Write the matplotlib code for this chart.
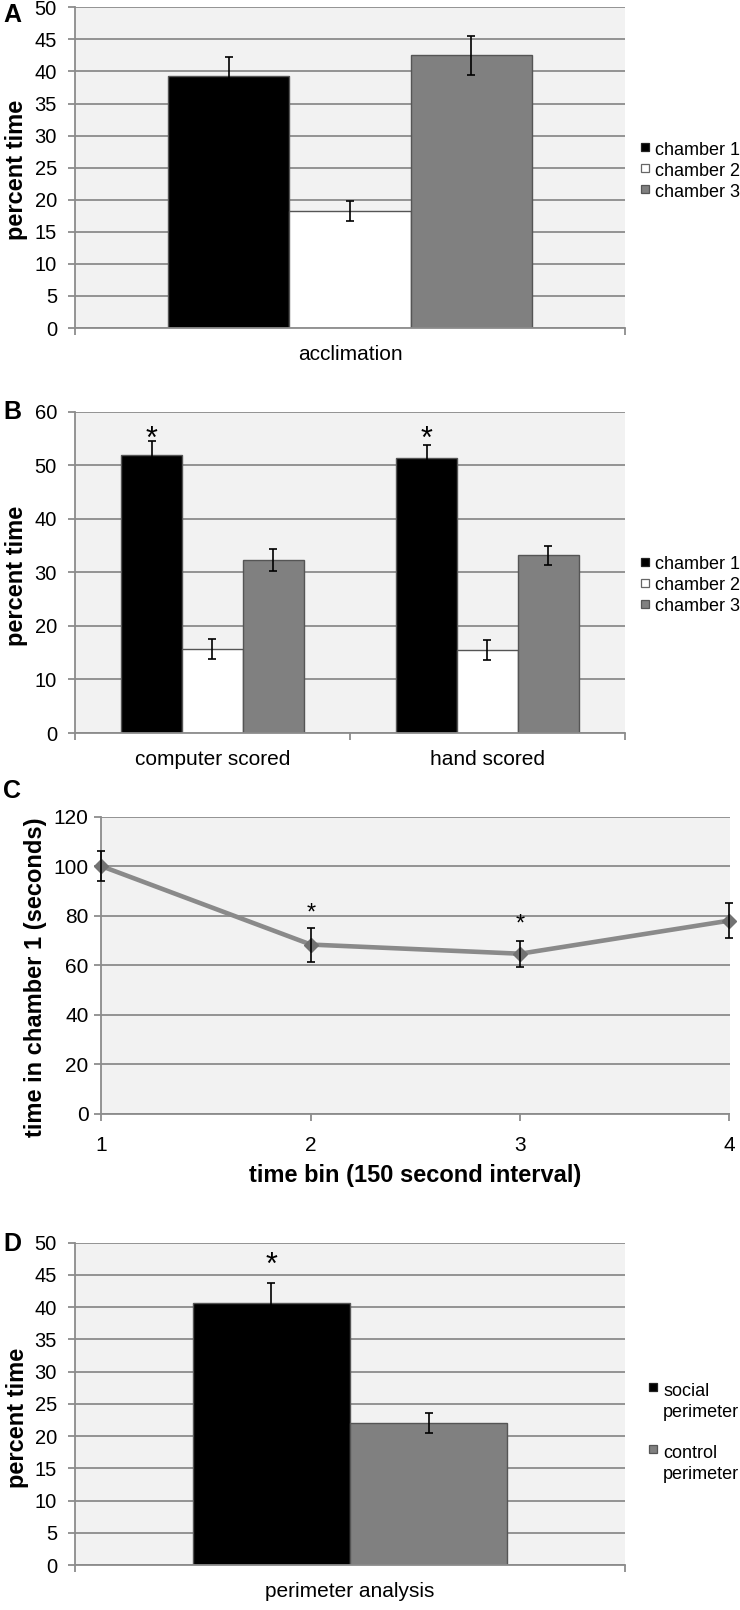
import matplotlib
matplotlib.use("Agg")
import matplotlib.pyplot as plt
import numpy as np
from matplotlib.patches import Rectangle

plt.rcParams['font.family'] = ['Liberation Sans', 'DejaVu Sans']

# ---------------- data ----------------
chambers = ['chamber 1', 'chamber 2', 'chamber 3']
chamber_colors = ['#000000', '#ffffff', '#808080']

# Panel A
a_categories = ['acclimation']
a_means = [39.3, 18.2, 42.5]
a_errs = [3.0, 1.55, 3.0]

# Panel B
b_categories = ['computer scored', 'hand scored']
b_means = {'chamber 1': [52.0, 51.4], 'chamber 2': [15.7, 15.45], 'chamber 3': [32.3, 33.2]}
b_errs = {'chamber 1': [2.6, 2.3], 'chamber 2': [1.9, 1.85], 'chamber 3': [2.1, 1.8]}
b_star_y = [56.6, 56.6]          # asterisks over chamber 1 bars

# Panel C
c_bins = [1, 2, 3, 4]
c_means = [100.0, 68.3, 64.6, 78.0]
c_errs = [6.0, 6.9, 5.2, 7.0]
c_star_bins = [2, 3]
c_star_y = [83.9, 79.6]

# Panel D
d_categories = ['perimeter analysis']
d_labels = ['social\nperimeter', 'control\nperimeter']
d_means = [40.6, 22.0]
d_errs = [3.1, 1.55]
d_colors = ['#000000', '#808080']
d_star_y = 47.9

# ---------------- layout helpers ----------------
W, H = 740, 1610
fig = plt.figure(figsize=(W / 100, H / 100), dpi=100)

def rect(left, top, right, bottom):
    return [left / W, 1 - bottom / H, (right - left) / W, (bottom - top) / H]

def fx(x):
    return x / W

def fy(y):
    return 1 - y / H

GRID = '#8c8c8c'
BG = '#f2f2f2'
EDGE = '#555555'
TICKFS = 14.5
LABFS = 17
LEGFS = 13

def style_axes(ax, ymax, ystep, ticklen=5, pad=8):
    ax.set_facecolor(BG)
    ax.set_ylim(0, ymax)
    ax.set_yticks(np.arange(0, ymax + 0.1, ystep))
    ax.yaxis.grid(True, color=GRID, linewidth=1.3)
    ax.set_axisbelow(True)
    for s in ['top', 'right']:
        ax.spines[s].set_visible(False)
    for s in ['left', 'bottom']:
        ax.spines[s].set_color(GRID)
        ax.spines[s].set_linewidth(1.3)
    ax.tick_params(axis='y', length=ticklen, width=1.3, color=GRID, pad=pad,
                   labelsize=TICKFS)

def category_xaxis(ax, ncat, labels):
    ax.set_xlim(0, ncat)
    ax.set_xticks(np.arange(ncat) + 0.5)
    ax.set_xticklabels(labels)
    ax.set_xticks(np.arange(ncat + 1), minor=True)
    ax.tick_params(axis='x', which='major', length=0, pad=12, labelsize=15)
    ax.tick_params(axis='x', which='minor', length=5, width=1.3, color=GRID)

def legend_entry(x_sq, y_sq, x_txt, y_base, color, label, edge, line_gap=20.5):
    fig.patches.append(Rectangle((fx(x_sq), fy(y_sq + 4)), 8 / W, 8 / H,
                                 transform=fig.transFigure, facecolor=color,
                                 edgecolor=edge, linewidth=0.9))
    for k, line in enumerate(label.split('\n')):
        fig.text(fx(x_txt), fy(y_base + k * line_gap), line, ha='left',
                 va='baseline', fontsize=LEGFS)

err_kw = dict(fmt='none', ecolor='black', elinewidth=1.2, capsize=3, capthick=1.2)
legend_edges = ['#222222', '#666666', '#555555']

# ---------------- Panel A ----------------
axA = fig.add_axes(rect(75, 7.3, 625, 328))
style_axes(axA, 50, 5)
category_xaxis(axA, 1, a_categories)
bw = 0.2204
offsetsA = (np.arange(3) - 1) * bw
for i, name in enumerate(chambers):
    x = 0.5 + offsetsA[i]
    axA.bar(x, a_means[i], width=bw, color=chamber_colors[i], edgecolor=EDGE,
            linewidth=1, label=name, zorder=2)
    axA.errorbar(x, a_means[i], yerr=a_errs[i], zorder=3, **err_kw)
    legend_entry(641, 147 + 21 * i, 655, 155 + 21 * i, chamber_colors[i], name,
                 legend_edges[i])

# ---------------- Panel B ----------------
axB = fig.add_axes(rect(75, 411.7, 625, 733))
style_axes(axB, 60, 10)
category_xaxis(axB, 2, b_categories)
bwB = 0.2215
offsetsB = (np.arange(3) - 1) * bwB
for i, name in enumerate(chambers):
    xs = np.arange(2) + 0.5 + offsetsB[i]
    axB.bar(xs, b_means[name], width=bwB, color=chamber_colors[i], edgecolor=EDGE,
            linewidth=1, label=name, zorder=2)
    axB.errorbar(xs, b_means[name], yerr=b_errs[name], zorder=3, **err_kw)
    legend_entry(641, 562 + 21 * i, 655, 569 + 21 * i, chamber_colors[i], name,
                 legend_edges[i])
for j in range(2):
    axB.annotate('*', xy=(j + 0.5 + offsetsB[0], b_star_y[j]), xytext=(0, -13),
                 textcoords='offset points', ha='center', va='baseline',
                 fontsize=22)

# ---------------- Panel C ----------------
axC = fig.add_axes(rect(101.5, 816.7, 729.5, 1113.5))
style_axes(axC, 120, 20, ticklen=4.8, pad=4.5)
axC.tick_params(axis='y', labelsize=15)
axC.set_xlim(1, 4)
axC.set_xticks(c_bins)
axC.tick_params(axis='x', length=5, width=1.3, color=GRID, pad=11, labelsize=15)
axC.plot(c_bins, c_means, color='#8a8a8a', linewidth=3.3, marker='D',
         markersize=7, markerfacecolor='#727272', markeredgecolor='#727272',
         zorder=3, clip_on=False)
axC.errorbar(c_bins, c_means, yerr=c_errs, zorder=4, clip_on=False, **err_kw)
for b, sy in zip(c_star_bins, c_star_y):
    axC.annotate('*', xy=(b, sy), xytext=(0, -10), textcoords='offset points',
                 ha='center', va='baseline', fontsize=17)

# ---------------- Panel D ----------------
axD = fig.add_axes(rect(75, 1242.7, 625, 1565))
style_axes(axD, 50, 5)
category_xaxis(axD, 1, d_categories)
bwD = 0.2855
offsetsD = (np.arange(2) - 0.5) * bwD
for i in range(2):
    x = 0.5 + offsetsD[i]
    axD.bar(x, d_means[i], width=bwD, color=d_colors[i], edgecolor=EDGE,
            linewidth=1, zorder=2)
    axD.errorbar(x, d_means[i], yerr=d_errs[i], zorder=3, **err_kw)
    first_base = [1396, 1458][i]
    legend_entry(649, first_base - 9, 663, first_base, d_colors[i], d_labels[i],
                 legend_edges[0] if i == 0 else legend_edges[2])
axD.annotate('*', xy=(0.5 + offsetsD[0], d_star_y), xytext=(0, -13),
             textcoords='offset points', ha='center', va='baseline', fontsize=22)

# ---------------- axis titles and panel letters ----------------
fig.text(fx(17), fy(170), 'percent time', rotation=90, ha='center', va='center',
         fontsize=LABFS, fontweight='bold')
fig.text(fx(17), fy(576), 'percent time', rotation=90, ha='center', va='center',
         fontsize=LABFS, fontweight='bold')
fig.text(fx(36), fy(977), 'time in chamber 1 (seconds)', rotation=90, ha='center',
         va='center', fontsize=LABFS, fontweight='bold')
fig.text(fx(415), fy(1175), 'time bin (150 second interval)', ha='center',
         va='center', fontsize=LABFS, fontweight='bold')
fig.text(fx(18), fy(1418), 'percent time', rotation=90, ha='center', va='center',
         fontsize=LABFS, fontweight='bold')

for letter, (x, y) in zip('ABCD', [(12, 15), (12, 412), (12, 791), (12, 1244)]):
    fig.text(fx(x), fy(y), letter, ha='center', va='center', fontsize=18,
             fontweight='bold')

fig.savefig('out.png', dpi=100)
